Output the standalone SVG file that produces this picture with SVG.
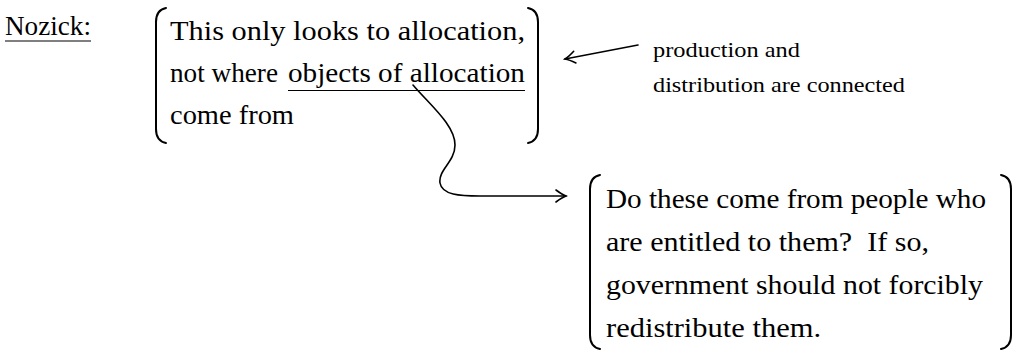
<svg xmlns="http://www.w3.org/2000/svg" width="1016" height="355" viewBox="0 0 1016 355">
<style>
.t{font-family:"Liberation Serif","DejaVu Serif","Noto Serif","Times New Roman",Times,serif;font-size:27px;fill:#000}
.s{font-family:"Liberation Serif","DejaVu Serif","Noto Serif","Times New Roman",Times,serif;font-size:22px;fill:#000}
.br{fill:none;stroke:#000;stroke-width:2;stroke-linecap:round}
.ul{stroke:#000;stroke-width:1.2}
.cn{fill:none;stroke:#000;stroke-width:1.6;stroke-linecap:round}
</style>
<defs>
<marker id="arr" viewBox="-12 -8 14 16" refX="0" refY="0" markerWidth="14" markerHeight="16" markerUnits="userSpaceOnUse" orient="auto">
<path d="M-10,-6 Q-4,-1.5 0,0 Q-4,1.5 -10,6" fill="none" stroke="#000" stroke-width="1.6" stroke-linecap="round"/>
</marker>
</defs>
<g id="label-nozick">
<text class="t" x="5" y="35" textLength="86" lengthAdjust="spacingAndGlyphs">Nozick:</text>
<line class="ul" x1="5" y1="41" x2="91" y2="41"/>
</g>
<g id="node-allocation">
<path class="br" d="M166,8 Q156,10 156,22 L156,129 Q156,141 166,143"/>
<path class="br" d="M528,8 Q538,10 538,22 L538,129 Q538,141 528,143"/>
<text class="t" x="170" y="40" textLength="355" lengthAdjust="spacingAndGlyphs">This only looks to allocation,</text>
<text class="t" x="170" y="82" textLength="108" lengthAdjust="spacingAndGlyphs">not where</text>
<text class="t" x="288" y="82" textLength="237" lengthAdjust="spacingAndGlyphs">objects of allocation</text>
<line class="ul" x1="288" y1="90.5" x2="525" y2="90.5"/>
<text class="t" x="170" y="124" textLength="124" lengthAdjust="spacingAndGlyphs">come from</text>
</g>
<g id="note-production">
<text class="s" x="653" y="57" textLength="147" lengthAdjust="spacingAndGlyphs">production and</text>
<text class="s" x="653" y="92" textLength="252" lengthAdjust="spacingAndGlyphs">distribution are connected</text>
</g>
<g id="node-entitled">
<path class="br" d="M600,175 Q590,177 590,189 L590,335 Q590,347 600,349"/>
<path class="br" d="M1001,175 Q1011,177 1011,189 L1011,335 Q1011,347 1001,349"/>
<text class="t" x="606" y="208" textLength="380" lengthAdjust="spacingAndGlyphs">Do these come from people who</text>
<text class="t" x="606" y="251" textLength="323" lengthAdjust="spacingAndGlyphs" xml:space="preserve" style="white-space:pre">are entitled to them?  If so,</text>
<text class="t" x="606" y="294" textLength="377" lengthAdjust="spacingAndGlyphs">government should not forcibly</text>
<text class="t" x="606" y="337" textLength="215" lengthAdjust="spacingAndGlyphs">redistribute them.</text>
</g>
<g id="connectors">
<line class="cn" x1="638" y1="45" x2="565" y2="59" marker-end="url(#arr)"/>
<path class="cn" d="M413,85 C430,105 455,125 455,145 C455,162 438,170 440,183 C442,195 460,196 480,196 L566,196" marker-end="url(#arr)"/>
</g>
</svg>
